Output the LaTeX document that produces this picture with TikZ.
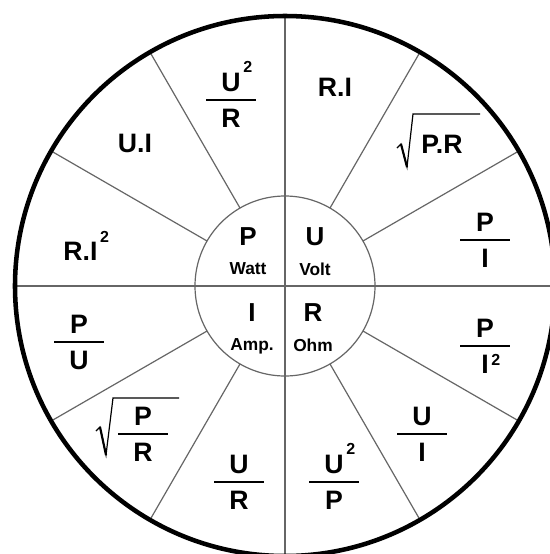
\documentclass[tikz,border=0pt]{standalone}
\usepackage{fontspec}
\setmainfont{Liberation Sans}
\usetikzlibrary{positioning}
\tikzset{
  spoke/.style={draw=black!60, line width=0.9pt},
  term/.style={inner sep=0pt, font=\fontsize{20}{24}\selectfont\bfseries},
  qty/.style={inner sep=0pt, font=\fontsize{19.5}{23}\selectfont\bfseries},
  unit/.style={inner sep=0pt, font=\fontsize{13}{15}\selectfont\bfseries},
  fracbar/.style={inner sep=0pt, fill=black, minimum width=38pt, minimum height=2.2pt},
  radical/.style={line width=0.9pt, line join=miter}
}
\newcommand{\supnum}{\rlap{\hspace{2pt}\raisebox{13.8pt}{\fontsize{12}{12}\selectfont 2}}}
\newcommand{\supden}{\rlap{\hspace{2pt}\raisebox{5.7pt}{\fontsize{12}{12}\selectfont 2}}}
\newcommand{\ratio}[4]{%
  \node[fracbar] (#1) at (#2) {};
  \node[term, above=5pt of #1] (#1-top) {#3};
  \node[term, below=5pt of #1] (#1-bot) {#4};
}
\begin{document}
\begin{tikzpicture}[x=0.75pt,y=0.75pt,yscale=-1,xscale=1]
\clip (0,0) rectangle (550,554);
\fill[white] (0,0) rectangle (550,554);
\draw[spoke] (285,286) circle (90);
\draw[spoke] (285,16) -- (285,554);
\draw[spoke] (15,286) -- (550,286);
\foreach \a in {30,60,120,150,210,240,300,330}
  \draw[spoke, shift={(285,286)}] (\a:90) -- (\a:270);
\draw[line width=3.4pt] (285,286) circle (270);

\node[qty] (P) at (248,237) {P};
\node[unit, below=12pt of P] (watt) {Watt};
\node[qty] (U) at (315,237) {U};
\node[unit, below=12pt of U] (volt) {Volt};
\node[qty] (I) at (252,313) {I};
\node[unit, below=12pt of I] (amp) {Amp.};
\node[qty] (R) at (313,313) {R};
\node[unit, below=12pt of R] (ohm) {Ohm};

\node[term] (ri) at (335,87) {R.I};
\node[term] (pr) at (442,144) {P.R};
\draw[radical] (397,148) -- (401,144) -- (407,167) -- (413,114) -- (480,114);
\draw[line width=1.6pt] (401,144) -- (407,167);
\ratio{pi}{485,240}{P}{I}
\ratio{pii}{485,346}{P}{I\supden}
\ratio{ui}{422,434}{U}{I}
\ratio{uup}{334,482}{U\supnum}{P}
\ratio{ur}{239,482}{U}{R}
\ratio{pdr}{143,434}{P}{R}
\draw[radical] (96,431) -- (100,427) -- (106,455) -- (113,398) -- (179,398);
\draw[line width=1.6pt] (100,427) -- (106,455);
\ratio{pu}{79,342}{P}{U}
\node[term] (rii) at (80.5,246) {R.I\supnum};
\node[term] (uli) at (135,143) {U.I};
\ratio{uur}{231,100}{U\supnum}{R}
\end{tikzpicture}
\end{document}
